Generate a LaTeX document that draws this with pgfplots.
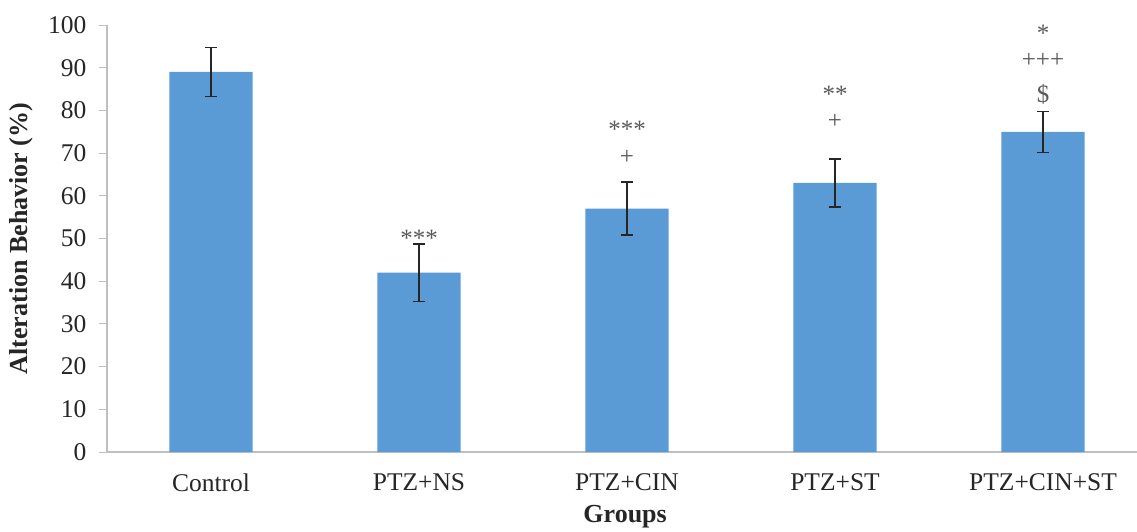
\documentclass[border=0pt]{standalone}
\usepackage{pgfplots}
\pgfplotsset{compat=1.18}
\usepackage{fontspec}
\setmainfont{Liberation Serif}
\definecolor{barblue}{HTML}{5B9BD5}
\definecolor{axgrey}{HTML}{BFBFBF}
\definecolor{txt}{HTML}{262626}
\definecolor{ann}{HTML}{595959}
\begin{document}
\begin{tikzpicture}
\begin{axis}[
  scale only axis,
  width=1030pt, height=427pt,
  xmin=-0.5, xmax=4.452,
  ymin=0, ymax=100,
  ytick={0,10,...,100},
  xtick={0,1,2,3,4},
  xticklabels={Control,PTZ+NS,PTZ+CIN,PTZ+ST,PTZ+CIN+ST},
  x tick style={draw=none},
  extra x ticks={0.5,1.5,2.5,3.5},
  extra x tick labels={},
  extra x tick style={tick style={draw=axgrey, line width=1pt}, major tick length=7pt, tick align=outside},
  y tick style={draw=axgrey, line width=1pt},
  tick align=outside,
  major tick length=8pt,
  axis x line*=bottom,
  axis y line*=left,
  axis line style={draw=axgrey, line width=1.6pt, -},
  /pgf/number format/assume math mode=true,
  tick label style={font=\fontsize{25.5}{28}\selectfont, text=txt},
  xticklabel style={yshift=-10pt},
  yticklabel style={xshift=-9pt},
  ylabel={\textbf{Alteration Behavior (\%)}},
  xlabel={\textbf{Groups}},
  label style={font=\fontsize{26}{30}\selectfont, text=txt},
  ylabel style={at={(axis description cs:-0.083,0.5)}, anchor=center, rotate=0},
  xlabel style={at={(axis description cs:0.503,-0.152)}, anchor=center},
  clip=false,
]
\addplot[ybar, bar width=0.4, fill=barblue, draw=none,
  error bars/.cd, y dir=both, y explicit,
  error bar style={line width=1.3pt, color=txt},
  error mark options={rotate=90, mark size=6pt, line width=1.3pt, color=txt}]
  coordinates {
  (0,89) +- (0,5.7)
  (1,42) +- (0,6.7)
  (2,57) +- (0,6.2)
  (3,63) +- (0,5.6)
  (4,75) +- (0,4.8)
  };
\addplot[only marks, mark=none, point meta=explicit symbolic,
  nodes near coords, nodes near coords align={center},
  every node near coord/.style={anchor=center, font=\fontsize{25}{28}\selectfont, text=ann, inner sep=0pt}]
  coordinates {
  (1,50.0) [***]
  (2,75.6) [***]
  (2,69.0) [+]
  (3,83.8) [**]
  (3,77.3) [+]
  (4,98.1) [*]
  (4,91.6) [+++]
  (4,83.8) [\$]
  };
\end{axis}
\pgfresetboundingbox
\useasboundingbox (-107pt,-79pt) rectangle (1030pt,452pt);
\end{tikzpicture}
\end{document}
